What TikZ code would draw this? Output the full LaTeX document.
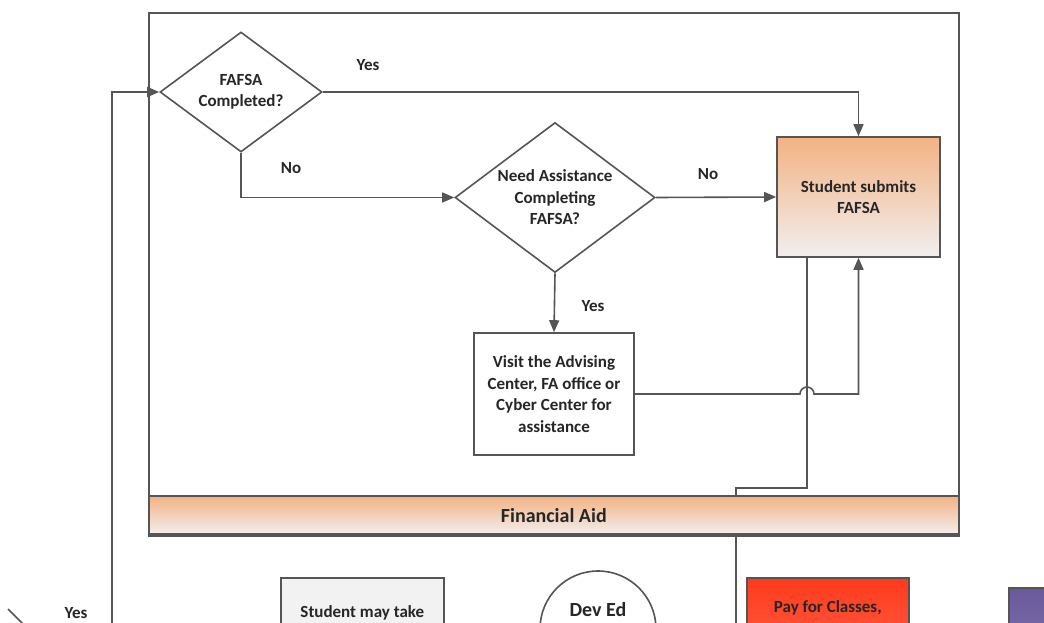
\documentclass[tikz,border=0pt]{standalone}
\usepackage{fontspec}
\setmainfont{Carlito}
\usetikzlibrary{shapes.geometric,arrows.meta}

\definecolor{linegray}{HTML}{555555}
\definecolor{peach}{HTML}{F3B283}
\definecolor{paper}{HTML}{F1EFEF}
\definecolor{payred}{HTML}{FF3A1C}
\definecolor{payredlight}{HTML}{FF6E58}
\definecolor{plum}{HTML}{6A5A9C}
\definecolor{plumlight}{HTML}{8A7CB2}

\begin{document}
\begin{tikzpicture}[x=1pt, y=-1pt,
    line/.style={draw=linegray, line width=1.6pt},
    flow/.style={line, -{Triangle[length=12pt, width=10pt]}},
    txt/.style={font=\fontsize{17}{21.5}\selectfont\bfseries, text=black!85, align=center},
    lbl/.style={txt},
    decide/.style={diamond, aspect=1.33, draw=linegray, line width=1.6pt, fill=white, inner sep=0pt, txt},
    proc/.style={rectangle, draw=linegray, line width=1.6pt, fill=white, inner sep=0pt, txt},
    orange/.style={top color=peach, bottom color=paper}]
  \useasboundingbox (0,0) rectangle (1044,623);
  \clip (0,0) rectangle (1044,623);
  % the Financial Aid lane
  \node[draw=linegray, line width=1.6pt, anchor=north west, minimum width=810pt, minimum height=523pt] (lane) at (148,12) {};
  % decisions and steps
  \node[decide, minimum width=162pt, minimum height=120pt] (fafsa) at (241,92) {FAFSA\\Completed?};
  \node[decide, minimum width=200pt, minimum height=150pt] (assist) at (555,197.5) {Need Assistance\\Completing\\FAFSA?};
  \node[proc, orange, minimum width=163pt, minimum height=120pt] (submit) at (858.5,197) {Student submits\\FAFSA};
  \node[proc, minimum width=160pt, minimum height=122pt] (visit) at (554,394) {Visit the Advising\\Center, FA office or\\Cyber Center for\\assistance};
  \coordinate (out) at ([xshift=-51.5pt]submit.south);
  \coordinate (loop) at (112,650);
  % connectors
  \draw[flow] (loop) |- (fafsa.west);
  \draw[flow] (fafsa.east) -- (submit.north |- fafsa.east) -- (submit.north);
  \draw[flow] (fafsa.south) |- (assist.west);
  \draw[flow] (assist.east) -- (submit.west);
  \draw[flow] (assist.south) -- (visit.north);
  \draw[flow] (visit.east) -- ([xshift=-7pt]out |- visit.east)
    arc[start angle=180, end angle=0, radius=7pt] -- (submit.south |- visit.east) -- (submit.south);
  \draw[line] (out) -- ++(0,230) -| (736,650);
  \node[lbl] (yes1) at (368,65) {Yes};
  \node[lbl] (no1) at (291,168) {No};
  \node[lbl] (no2) at (708,174) {No};
  \node[lbl] (yes2) at (593,306) {Yes};
  % lane title
  \node[draw=linegray, line width=1.6pt, orange, anchor=south west, minimum width=810pt, minimum height=38pt, txt, font=\fontsize{20}{24}\selectfont\bfseries] (band) at (148,535) {Financial Aid};
  % next lane, cut off by the page
  \draw[line] (8,609) -- (26,627);
  \node[lbl] (yes3) at (76,613) {Yes};
  \node[proc, fill=black!5, anchor=north west, minimum width=163pt, minimum height=120pt] (take) at (280,577) {};
  \node[txt] (taketxt) at ([yshift=-36pt]take.north) {Student may take};
  \node[circle, draw=linegray, line width=1.6pt, fill=white, minimum size=116pt] (deved) at (598,629) {};
  \node[txt, font=\fontsize{20}{24}\selectfont\bfseries] (devedtxt) at (598,610) {Dev Ed};
  \node[proc, top color=payred, bottom color=payredlight, anchor=north west, minimum width=162pt, minimum height=120pt] (pay) at (746,577) {};
  \node[txt] (paytxt) at ([yshift=-31pt]pay.north) {Pay for Classes,};
  \node[proc, top color=plum, bottom color=plumlight, anchor=north west, minimum width=120pt, minimum height=120pt] (next) at (1008,587) {};
\end{tikzpicture}
\end{document}
